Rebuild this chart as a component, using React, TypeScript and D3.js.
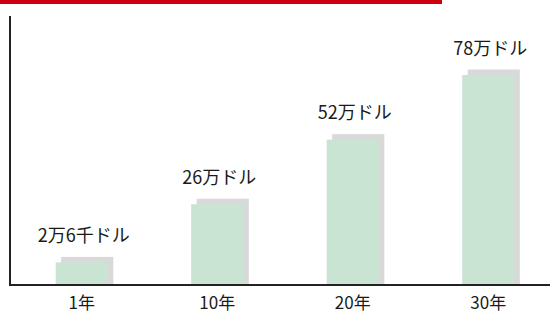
import * as d3 from "d3";
import { useEffect, useRef } from "react";

const categories = ["1年", "10年", "20年", "30年"];
const values = [2.6, 26, 52, 78]; // 万ドル
const valueLabels = ["2万6千ドル", "26万ドル", "52万ドル", "78万ドル"];

const W = 550;
const H = 314;

export default function App() {
  const svgRef = useRef<SVGSVGElement | null>(null);

  useEffect(() => {
    const svg = d3.select(svgRef.current);
    svg.selectAll("*").remove();

    const baseY = 285;
    const axisX = 10;
    const shadow = 5.5;
    const font = "'Noto Sans CJK JP', 'Noto Sans', sans-serif";

    const x = d3.scaleBand<string>()
      .domain(categories)
      .range([14, 556])
      .paddingInner(0.615)
      .paddingOuter(0.3075);

    // bars in the original aren't strictly proportional; a small negative floor fits them best
    const y = d3.scaleLinear().domain([-6.5, 78]).range([baseY, 75]);

    // red strip on top
    svg.append("rect")
      .attr("x", 0).attr("y", 0)
      .attr("width", 442).attr("height", 4)
      .attr("fill", "#cc0011");

    const rows = categories.map((c, i) => ({ c, v: values[i], label: valueLabels[i] }));

    // shadows
    svg.append("g").selectAll("rect")
      .data(rows)
      .join("rect")
      .attr("x", d => x(d.c)! + shadow)
      .attr("y", d => y(d.v) - shadow)
      .attr("width", x.bandwidth())
      .attr("height", d => baseY - y(d.v) + shadow)
      .attr("fill", "#d9d9d9");

    svg.append("g").selectAll("rect")
      .data(rows)
      .join("rect")
      .attr("x", d => x(d.c)!)
      .attr("y", d => y(d.v))
      .attr("width", x.bandwidth())
      .attr("height", d => baseY - y(d.v))
      .attr("fill", "#c9e4d3");

    svg.append("g").selectAll("text")
      .data(rows)
      .join("text")
      .attr("x", d => x(d.c)! + x.bandwidth() / 2 + 2)
      .attr("y", d => y(d.v) - shadow - 15)
      .attr("text-anchor", "middle")
      .attr("font-family", font)
      .attr("font-size", 18)
      .attr("fill", "#1a1a1a")
      .text(d => d.label);

    // axes
    svg.append("line")
      .attr("x1", axisX).attr("x2", axisX)
      .attr("y1", 16).attr("y2", baseY + 1)
      .attr("stroke", "#222").attr("stroke-width", 2);
    svg.append("line")
      .attr("x1", axisX - 1).attr("x2", W)
      .attr("y1", baseY).attr("y2", baseY)
      .attr("stroke", "#222").attr("stroke-width", 2);

    svg.append("g").selectAll("text")
      .data(categories)
      .join("text")
      .attr("x", d => x(d)! + x.bandwidth() / 2)
      .attr("y", 309)
      .attr("text-anchor", "middle")
      .attr("font-family", font)
      .attr("font-size", 17)
      .attr("fill", "#1a1a1a")
      .text(d => d);
  }, []);

  return (
    <svg
      ref={svgRef}
      width={W}
      height={H}
      style={{ position: "fixed", left: 0, top: 0, background: "#fff" }}
    />
  );
}
